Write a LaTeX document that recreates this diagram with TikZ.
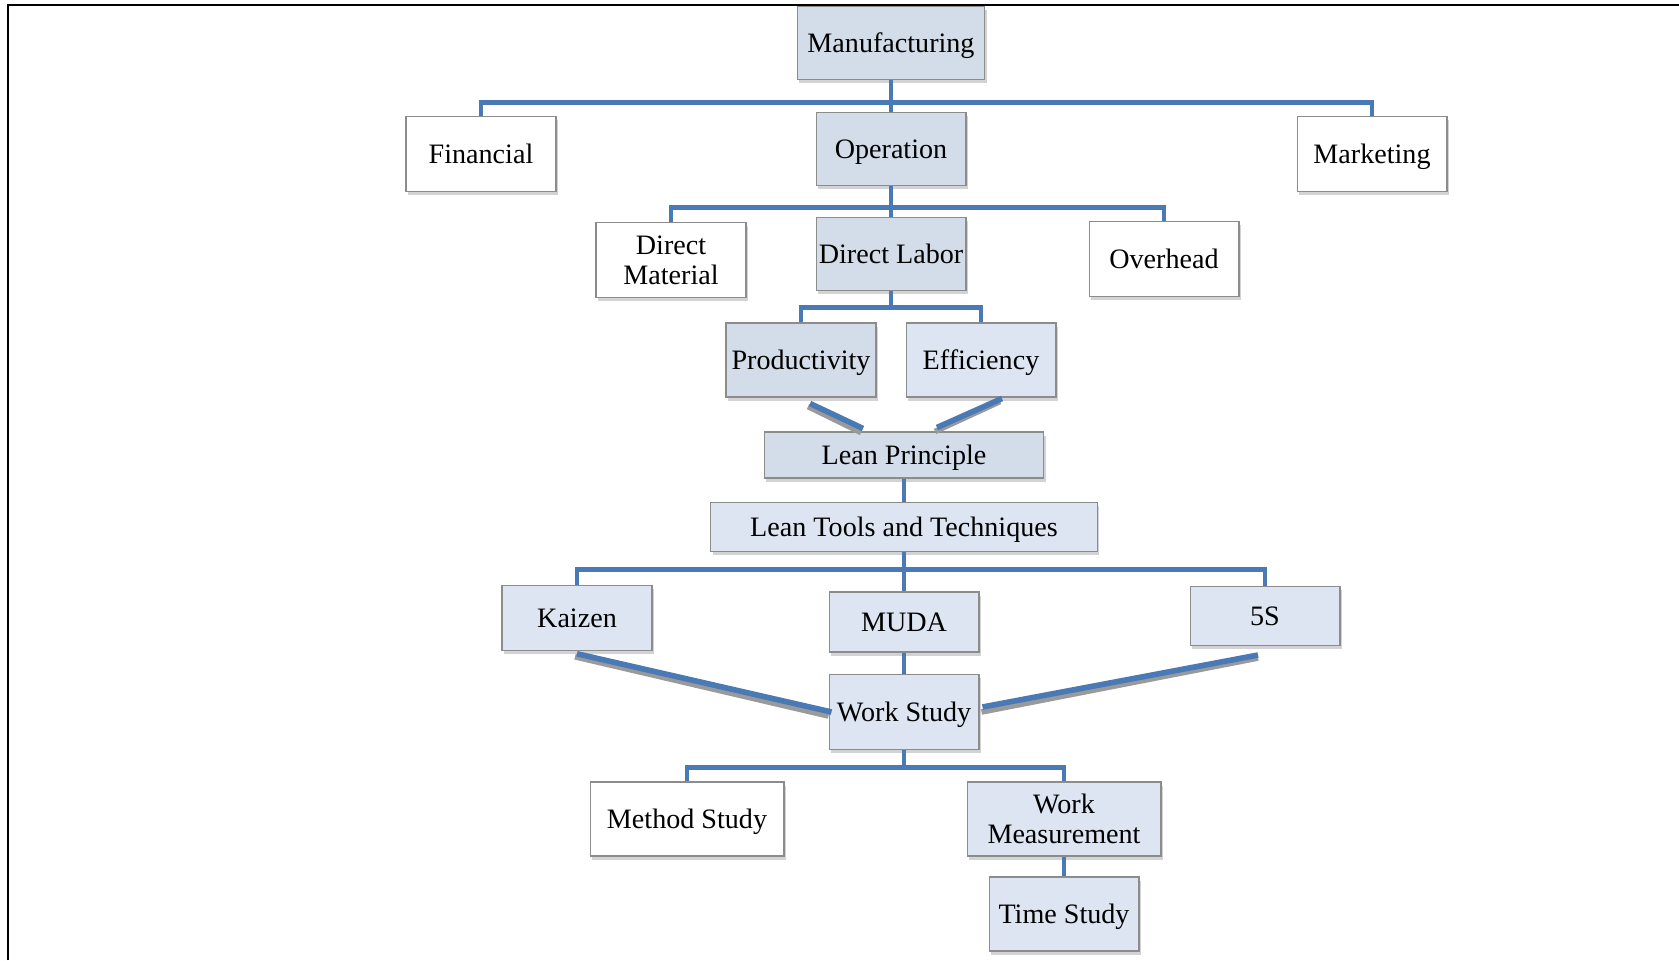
\documentclass[tikz,border=0pt]{standalone}
\usepackage{fontspec}
\setmainfont{Liberation Serif}
\usetikzlibrary{calc,shadows}
\definecolor{cline}{HTML}{4A7AB5}
\definecolor{cbox}{HTML}{DCE5F1}
\definecolor{cboxd}{HTML}{D3DDE9}
\definecolor{cedge}{HTML}{8C8C8C}
\definecolor{cshade}{HTML}{9A9A9A}

\begin{document}
\begin{tikzpicture}[
    x=0.02cm, y=-0.02cm,
    boxbase/.style={draw=cedge, line width=0.6pt, fill=cbox, align=center,
                minimum width=3cm, minimum height=1.5cm, inner sep=1pt,
                font=\fontsize{16}{17}\selectfont,
                drop shadow={shadow xshift=1.2pt, shadow yshift=-2pt, opacity=0.35}},
    box/.style={boxbase, text height=13.5pt, text depth=3pt},
    plain/.style={box, fill=white},
    dark/.style={box, fill=cboxd},
    twoline/.style={boxbase},
    wire/.style={cline, line width=2.6pt},
    slant/.style={cline, line width=3.2pt},
    slantsh/.style={cshade, line width=3.2pt},
]
\useasboundingbox (0,0) rectangle (1679,960);

% Frame
\draw[line width=1.1pt] (8,960) -- (8,5) -- (1679,5);

% === Top levels ===
\node[dark, minimum width=3.75cm, minimum height=1.46cm] (manu) at (891,43) {Manufacturing};
\node[plain] (fin) at (481,154) {Financial};
\node[dark, minimum height=1.46cm] (oper) at (891,149) {Operation};
\node[plain] (mkt) at (1372,154) {Marketing};

\node[twoline, fill=white] (dmat) at (671,260) {Direct\\Material};
\node[dark, minimum height=1.46cm] (dlab) at (891,254) {Direct Labor};
\node[plain] (ovh) at (1164,259) {Overhead};

\node[dark, minimum height=1.48cm] (prod) at (801,360) {Productivity};
\node[box, minimum height=1.48cm] (eff) at (981,360) {Efficiency};

% === Lean ===
\node[dark, minimum width=5.59cm, minimum height=0.92cm] (lp) at (904,455) {Lean Principle};
\node[box, minimum width=7.73cm, minimum height=0.97cm] (ltt) at (904,527) {Lean Tools and Techniques};

\node[box, minimum height=1.29cm] (kai) at (577,618) {Kaizen};
\node[box, minimum height=1.2cm] (muda) at (904,622) {MUDA};
\node[box, minimum height=1.18cm] (fives) at (1265,616) {5S};

% === Work study ===
\node[box] (ws) at (904,712) {Work Study};
\node[plain, minimum width=3.88cm, minimum height=1.48cm] (mst) at (687,819) {Method Study};
\node[twoline, minimum width=3.88cm, minimum height=1.48cm] (wm) at (1064,819) {Work\\Measurement};
\node[box, minimum height=1.48cm] (ts) at (1064,914) {Time Study};

% === Connectors ===
\draw[wire] (manu.south) -- ++(0,22.5) coordinate (j1);
\draw[wire] (fin.north) |- (j1) -| (mkt.north);
\draw[wire] (j1) -- (oper.north);

\draw[wire] (oper.south) -- ++(0,21.5) coordinate (j2);
\draw[wire] (dmat.north) |- (j2) -| (ovh.north);
\draw[wire] (j2) -- (dlab.north);

\draw[wire] (dlab.south) -- ++(0,16.5) coordinate (j3);
\draw[wire] (prod.north) |- (j3) -| (eff.north);

% slanted links with shade
\draw[slantsh] ($(prod.south)+(7,9)$) -- ($(lp.north)+(-43,1)$);
\draw[slant] ($(prod.south)+(9,6)$) -- ($(lp.north)+(-41,-3)$);
\draw[slantsh] ($(eff.south)+(19,4)$) -- ($(lp.north)+(31,0)$);
\draw[slant] ($(eff.south)+(21,1)$) -- ($(lp.north)+(33,-4)$);

\draw[wire] (lp.south) -- (ltt.north);
\draw[wire] (ltt.south) -- ++(0,18) coordinate (j4);
\draw[wire] (kai.north) |- (j4) -| (fives.north);
\draw[wire] (j4) -- (muda.north);
\draw[wire] (muda.south) -- (ws.north);

\draw[slantsh] ($(kai.south)+(-2,6)$) -- ($(ws.west)+(0,4)$);
\draw[slant] ($(kai.south)+(0,3)$) -- ($(ws.west)+(3,0)$);
\draw[slantsh] ($(fives.south)+(-7,12)$) -- ($(ws.east)+(2,0)$);
\draw[slant] ($(fives.south)+(-7,9)$) -- ($(ws.east)+(3,-5)$);

\draw[wire] (ws.south) -- ++(0,17.5) coordinate (j5);
\draw[wire] (mst.north) |- (j5) -| (wm.north);
\draw[wire] (wm.south) -- (ts.north);

\end{tikzpicture}
\end{document}
